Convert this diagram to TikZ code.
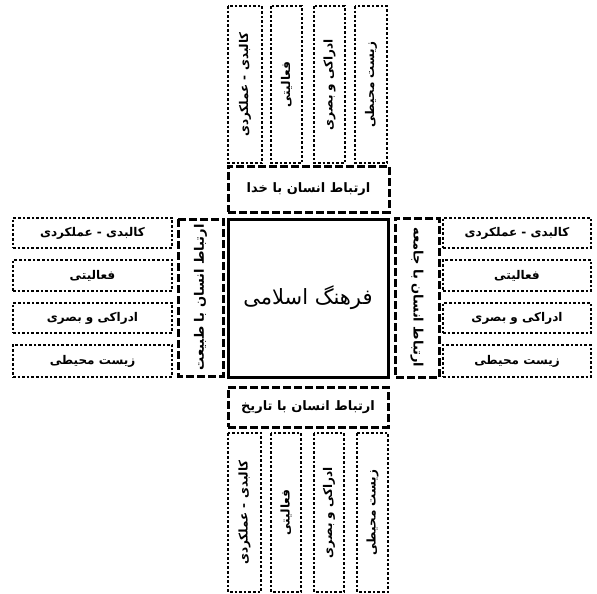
\documentclass[tikz,border=0pt]{standalone}
\usepackage{fontspec}
\newfontfamily\fa[Script=Arabic]{DejaVu Sans}
\TeXXeTstate=1
\tikzset{
  dotbox/.style={draw, line width=2.8pt, dash pattern=on 2.6pt off 2pt, inner sep=0pt, font=\fa\bfseries\fontsize{12}{14}\selectfont},
  dashbox/.style={draw, line width=3pt, dash pattern=on 8pt off 3pt, inner sep=0pt, font=\fa\bfseries\fontsize{13}{15}\selectfont},
  mainbox/.style={draw, line width=3pt, inner sep=0pt, font=\fa\fontsize{21}{24}\selectfont}
}
\newcommand{\rtl}[1]{\beginR #1\endR}
\begin{document}
\begin{tikzpicture}[x=1pt,y=-1pt]
\useasboundingbox (0,0) rectangle (597,594);
% centre
\node[mainbox, minimum width=160pt, minimum height=158pt] (c) at (308,298) {\rtl{فرهنگ اسلامی}};
% dashed boxes
\node[dashbox, minimum width=161pt, minimum height=46pt] (god) at (308.5,189) {\rtl{ارتباط انسان با خدا}};
\node[dashbox, minimum width=160pt, minimum height=40pt] (hist) at (308,407) {\rtl{ارتباط انسان با تاریخ}};
\node[dashbox, rotate=90, minimum width=157pt, minimum height=45pt] (nat) at (200.5,297.5) {\rtl{ارتباط انسان با طبیعت}};
\node[dashbox, rotate=-90, minimum width=159pt, minimum height=44pt] (soc) at (417,297.5) {\rtl{ارتباط انسان با جامعه}};
% top dotted
\node[dotbox, rotate=90, minimum width=157pt, minimum height=34pt] (t1) at (245,84.5) {\rtl{کالبدی - عملکردی}};
\node[dotbox, rotate=90, minimum width=157pt, minimum height=31pt] (t2) at (286.5,84.5) {\rtl{فعالیتی}};
\node[dotbox, rotate=90, minimum width=157pt, minimum height=31pt] (t3) at (329.5,84.5) {\rtl{ادراکی و بصری}};
\node[dotbox, rotate=90, minimum width=157pt, minimum height=32pt] (t4) at (371,84.5) {\rtl{زیست محیطی}};
% bottom dotted
\node[dotbox, rotate=90, minimum width=159pt, minimum height=33pt] (b1) at (244.5,512.5) {\rtl{کالبدی - عملکردی}};
\node[dotbox, rotate=90, minimum width=159pt, minimum height=30pt] (b2) at (286,512.5) {\rtl{فعالیتی}};
\node[dotbox, rotate=90, minimum width=159pt, minimum height=30pt] (b3) at (329,512.5) {\rtl{ادراکی و بصری}};
\node[dotbox, rotate=90, minimum width=159pt, minimum height=31pt] (b4) at (372.5,512.5) {\rtl{زیست محیطی}};
% left dotted
\node[dotbox, minimum width=159pt, minimum height=30pt] (l1) at (92.5,233) {\rtl{کالبدی - عملکردی}};
\node[dotbox, minimum width=159pt, minimum height=31pt] (l2) at (92.5,275.5) {\rtl{فعالیتی}};
\node[dotbox, minimum width=159pt, minimum height=30pt] (l3) at (92.5,318) {\rtl{ادراکی و بصری}};
\node[dotbox, minimum width=159pt, minimum height=32pt] (l4) at (92.5,361) {\rtl{زیست محیطی}};
% right dotted
\node[dotbox, minimum width=148pt, minimum height=30pt] (r1) at (517,233) {\rtl{کالبدی - عملکردی}};
\node[dotbox, minimum width=148pt, minimum height=31pt] (r2) at (517,275.5) {\rtl{فعالیتی}};
\node[dotbox, minimum width=148pt, minimum height=30pt] (r3) at (517,318) {\rtl{ادراکی و بصری}};
\node[dotbox, minimum width=148pt, minimum height=32pt] (r4) at (517,361) {\rtl{زیست محیطی}};
\end{tikzpicture}
\end{document}
